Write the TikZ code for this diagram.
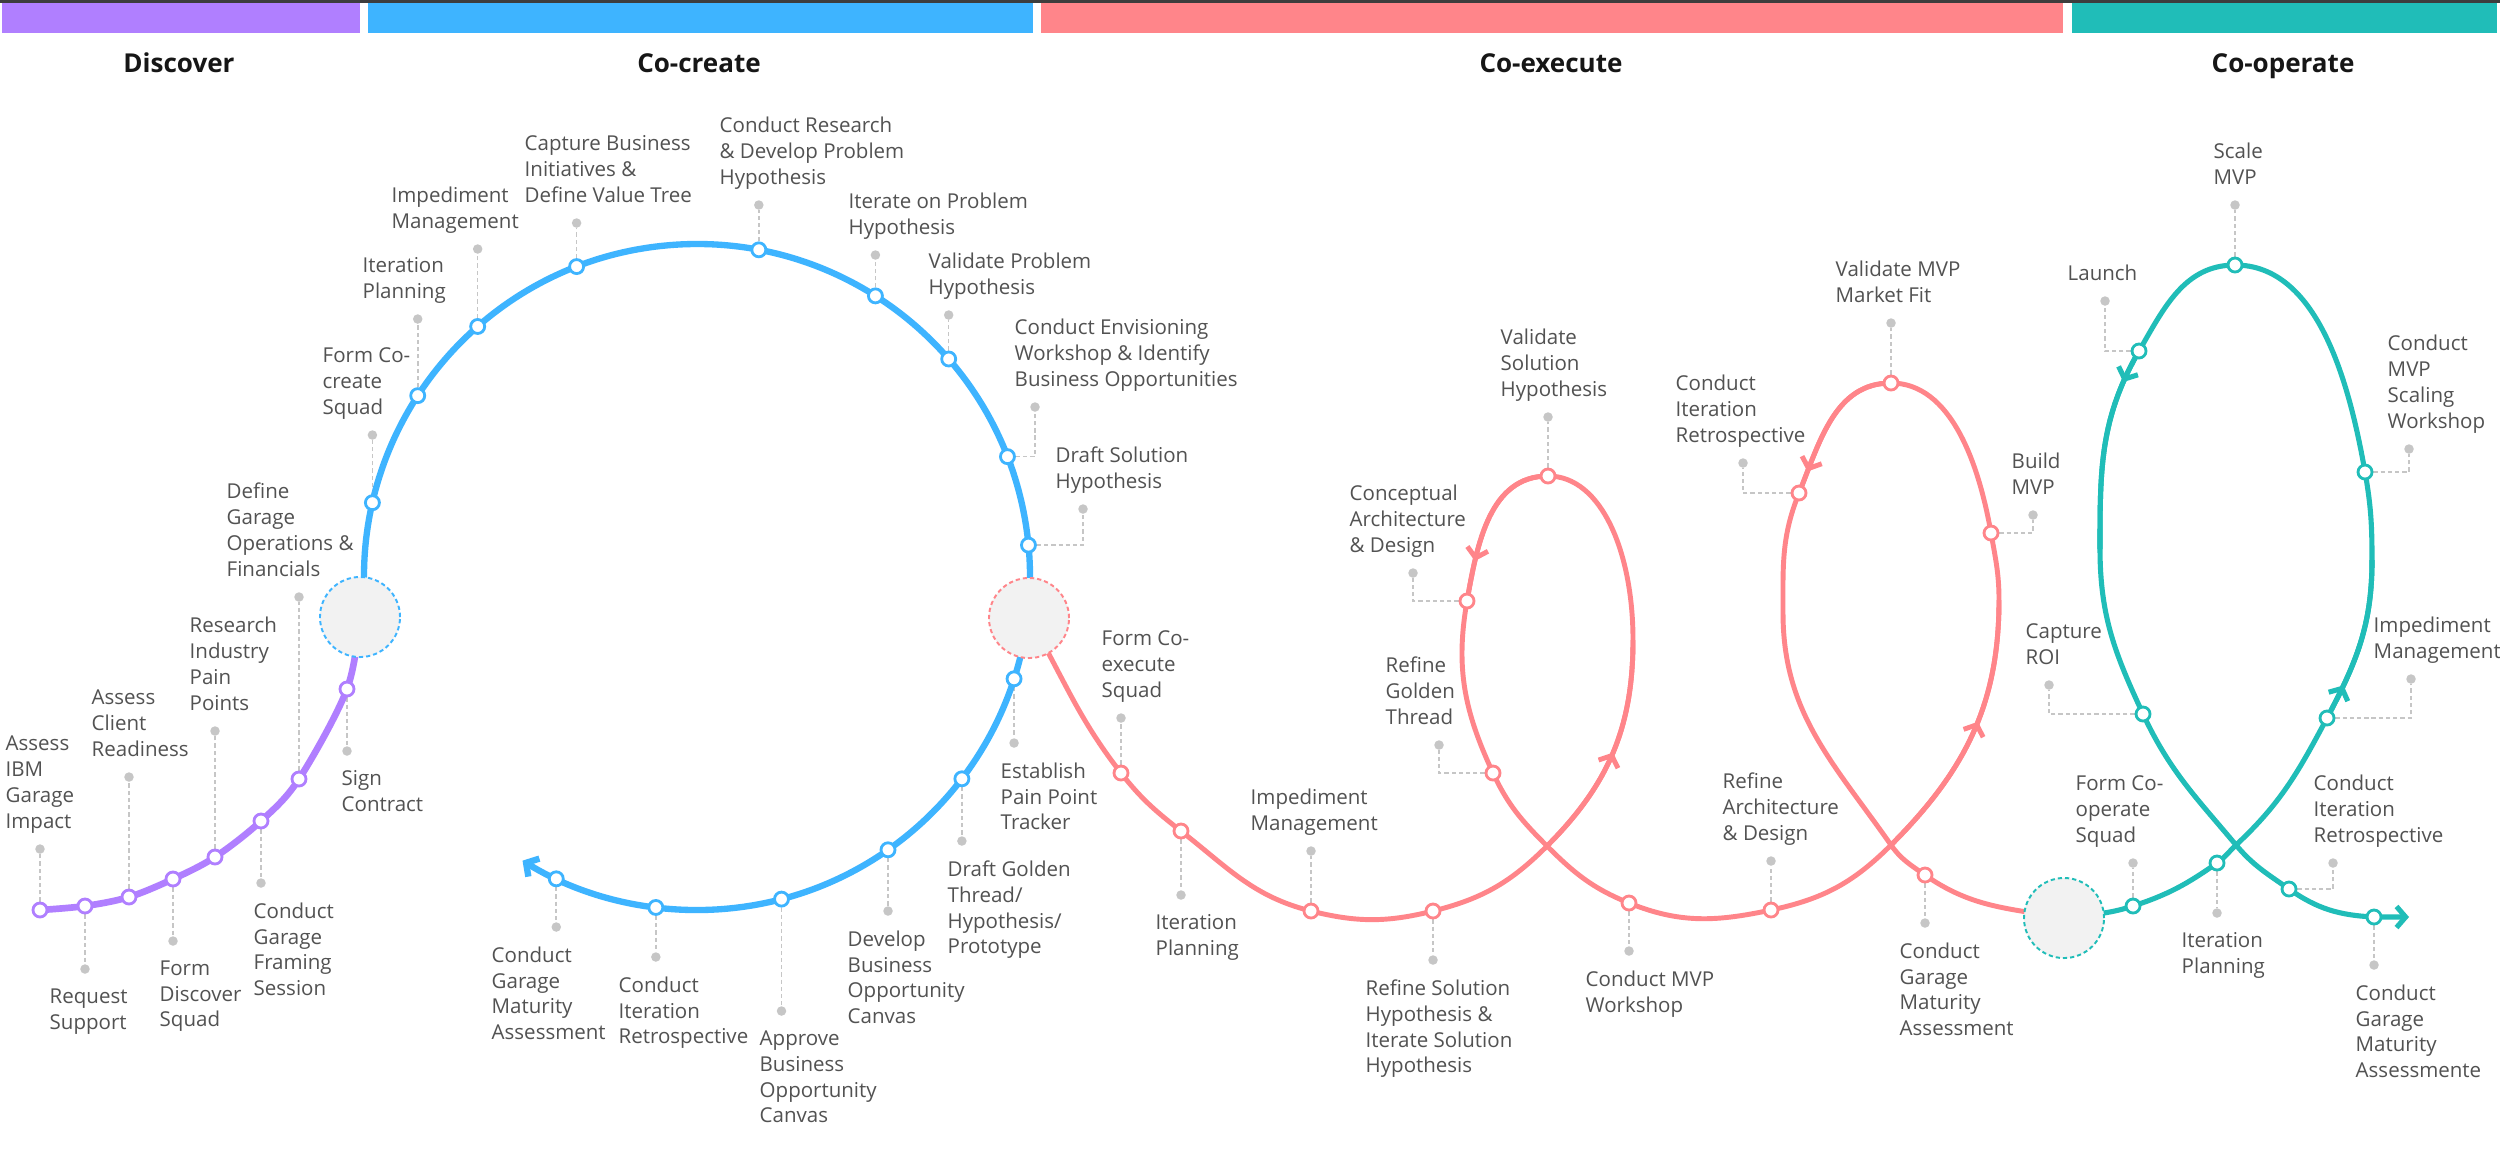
\documentclass[tikz,border=0pt]{standalone}
\usepackage{fontspec}
\setmainfont{Open Sans}
\usetikzlibrary{arrows.meta,calc,decorations.markings}
\pgfdeclarelayer{back}
\pgfsetlayers{back,main}
\definecolor{cpur}{HTML}{B07FFF}
\definecolor{cblu}{HTML}{3EB4FF}
\definecolor{cpnk}{HTML}{FF858A}
\definecolor{ctea}{HTML}{20BDB8}
\definecolor{cgry}{HTML}{C6C6C6}
\definecolor{ctxt}{HTML}{525252}
\definecolor{cfill}{HTML}{F2F2F2}
\definecolor{ctop}{HTML}{3D3D3D}
\definecolor{chdr}{HTML}{161616}
\tikzset{
 ndot/.style={circle, draw=#1, fill=white, line width=0.8pt, minimum size=0.14cm, inner sep=0pt},
 gdot/.style={circle, fill=cgry, draw=none, minimum size=0.095cm, inner sep=0pt},
 leader/.style={draw=cgry, line width=0.45pt, dash pattern=on 1.2pt off 0.85pt},
 lbl/.style={font=\fontsize{5.83pt}{7.34pt}\selectfont, text=ctxt, align=left, inner sep=0pt},
 lblup/.style={lbl, anchor=south west, execute at end node={\vphantom{g}}},
 lbldn/.style={lbl, anchor=north west, execute at begin node={\vphantom{d}}},
 bigc/.style={circle, draw=#1, fill=cfill, line width=0.55pt, dash pattern=on 1.2pt off 0.85pt, minimum size=0.8cm, inner sep=0pt},
 hdr/.style={font=\bfseries\fontsize{7.4pt}{9pt}\selectfont, text=chdr, anchor=base, inner sep=0pt},
 tipb/.tip={Straight Barb[length=2.6pt,width=6pt]},
 ppath/.style={draw=cpur, line width=1.9pt},
 bpath/.style={draw=cblu, line width=1.8pt},
 kpath/.style={draw=cpnk, line width=1.4pt},
 tpath/.style={draw=ctea, line width=1.45pt},
 marr/.style={postaction={decorate}, decoration={markings, mark=at position #1 with {\arrow{tipb}}}},
}
\begin{document}
\begin{tikzpicture}[x=0.01cm,y=0.01cm]
\begin{pgfonlayer}{back}
\fill[white] (0,0) rectangle (2500,-1150);
\end{pgfonlayer}
\useasboundingbox (0,0) rectangle (2500,-1150);
% top bars
\fill[ctop] (0,0) rectangle (2500,-2.5);
\fill[cpur] (2,-2.5) rectangle (360,-33);
\fill[cblu] (368,-2.5) rectangle (1033,-33);
\fill[cpnk] (1041,-2.5) rectangle (2063,-33);
\fill[ctea] (2072,-2.5) rectangle (2497,-33);
\node[hdr] (h1) at (179,-72) {Discover};
\node[hdr] (h2) at (699,-72) {Co-create};
\node[hdr] (h3) at (1551,-72) {Co-execute};
\node[hdr] (h4) at (2283,-72) {Co-operate};

\coordinate (C) at (697,-577);
\node[bigc=cblu] (bc) at (360,-617) {};
\node[bigc=cpnk] (pc) at (1029,-618) {};
\node[bigc=ctea] (tc) at (2064,-918) {};

% ---------- Discover ----------
\node[ndot=cpur] (d1) at (40,-910) {};
\node[ndot=cpur] (d2) at (85,-906) {};
\node[ndot=cpur] (d3) at (129,-897) {};
\node[ndot=cpur] (d4) at (173,-879) {};
\node[ndot=cpur] (d5) at (215,-857) {};
\node[ndot=cpur] (d6) at (261,-821) {};
\node[ndot=cpur] (d7) at (299,-779) {};
\node[ndot=cpur] (d8) at (347,-689) {};
\node[gdot] (d1d) at (d1 |- 0,-849) {};
\node[gdot] (d2d) at (d2 |- 0,-969) {};
\node[gdot] (d3d) at (d3 |- 0,-777) {};
\node[gdot] (d4d) at (d4 |- 0,-941) {};
\node[gdot] (d5d) at (d5 |- 0,-731) {};
\node[gdot] (d6d) at (d6 |- 0,-883) {};
\node[gdot] (d7d) at (d7 |- 0,-597) {};
\node[gdot] (d8d) at (d8 |- 0,-751) {};
\node[lblup] (d1l) at (5,-834) {Assess\\IBM\\Garage\\Impact};
\node[lbldn] (d2l) at (49,-988) {Request\\Support};
\node[lblup] (d3l) at (91,-762) {Assess\\Client\\Readiness};
\node[lbldn] (d4l) at (159,-960) {Form\\Discover\\Squad};
\node[lblup] (d5l) at (189,-716) {Research\\Industry\\Pain\\Points};
\node[lbldn] (d6l) at (253,-902) {Conduct\\Garage\\Framing\\Session};
\node[lblup] (d7l) at (226,-582) {Define\\Garage\\Operations \&\\Financials};
\node[lbldn] (d8l) at (341,-770) {Sign\\Contract};

% ---------- Co-create ----------
\node[ndot=cblu] (b1) at ($(C)+(167.1:333)$) {};
\node[ndot=cblu] (b2) at ($(C)+(147.0:333)$) {};
\node[ndot=cblu] (b3) at ($(C)+(131.2:333)$) {};
\node[ndot=cblu] (b4) at ($(C)+(111.2:333)$) {};
\node[ndot=cblu] (b5) at ($(C)+(79.3:333)$) {};
\node[ndot=cblu] (b6) at ($(C)+(57.6:333)$) {};
\node[ndot=cblu] (b7) at ($(C)+(40.9:333)$) {};
\node[ndot=cblu] (b8) at ($(C)+(21.2:333)$) {};
\node[ndot=cblu] (b9) at ($(C)+(5.5:333)$) {};
\node[ndot=cblu] (b10) at ($(C)+(-17.8:333)$) {};
\node[ndot=cblu] (b11) at ($(C)+(-37.3:333)$) {};
\node[ndot=cblu] (b12) at ($(C)+(-55:333)$) {};
\node[ndot=cblu] (b13) at ($(C)+(-75.3:333)$) {};
\node[ndot=cblu] (b14) at ($(C)+(-97.1:333)$) {};
\node[ndot=cblu] (b15) at ($(C)+(-115:333)$) {};
\node[gdot] (b1d) at (b1 |- 0,-435) {};
\node[gdot] (b2d) at (b2 |- 0,-319) {};
\node[gdot] (b3d) at (b3 |- 0,-249) {};
\node[gdot] (b4d) at (b4 |- 0,-223) {};
\node[gdot] (b5d) at (b5 |- 0,-205) {};
\node[gdot] (b6d) at (b6 |- 0,-255) {};
\node[gdot] (b7d) at (b7 |- 0,-315) {};
\node[gdot] (b8d) at (1035,-407) {};
\node[gdot] (b9d) at (1083,-509) {};
\node[gdot] (b10d) at (b10 |- 0,-743) {};
\node[gdot] (b11d) at (b11 |- 0,-841) {};
\node[gdot] (b12d) at (b12 |- 0,-911) {};
\node[gdot] (b13d) at (b13 |- 0,-1011) {};
\node[gdot] (b14d) at (b14 |- 0,-957) {};
\node[gdot] (b15d) at (b15 |- 0,-927) {};
\node[lblup] (b1l) at (322,-420) {Form Co-\\create\\Squad};
\node[lblup] (b2l) at (362,-304) {Iteration\\Planning};
\node[lblup] (b3l) at (391,-234) {Impediment\\Management};
\node[lblup] (b4l) at (524,-208) {Capture Business\\Initiatives \&\\Define Value Tree};
\node[lblup] (b5l) at (719,-190) {Conduct Research\\\& Develop Problem\\Hypothesis};
\node[lblup] (b6l) at (848,-240) {Iterate on Problem\\Hypothesis};
\node[lblup] (b7l) at (928,-300) {Validate Problem\\Hypothesis};
\node[lblup] (b8l) at (1014,-392) {Conduct Envisioning\\Workshop \& Identify\\Business Opportunities};
\node[lblup] (b9l) at (1055,-494) {Draft Solution\\Hypothesis};
\node[lbldn] (b10l) at (1000,-762) {Establish\\Pain Point\\Tracker};
\node[lbldn] (b11l) at (947,-860) {Draft Golden\\Thread/\\Hypothesis/\\Prototype};
\node[lbldn] (b12l) at (847,-930) {Develop\\Business\\Opportunity\\Canvas};
\node[lbldn] (b13l) at (759,-1030) {Approve\\Business\\Opportunity\\Canvas};
\node[lbldn] (b14l) at (618,-976) {Conduct\\Iteration\\Retrospective};
\node[lbldn] (b15l) at (491,-946) {Conduct\\Garage\\Maturity\\Assessment};

% ---------- Co-execute ----------
\coordinate (X1) at (1547,-846);
\coordinate (R1) at (1633,-640);
\coordinate (X2) at (1891,-845);
\coordinate (R2) at (1999,-600);
\coordinate (L2) at (1783,-613);
\node[ndot=cpnk] (p1) at (1121,-773) {};
\node[ndot=cpnk] (p2) at (1181,-831) {};
\node[ndot=cpnk] (p3) at (1311,-911) {};
\node[ndot=cpnk] (p4) at (1433,-911) {};
\node[ndot=cpnk] (p5) at (1548,-476) {};
\node[ndot=cpnk] (p6) at (1467,-601) {};
\node[ndot=cpnk] (p7) at (1493,-773) {};
\node[ndot=cpnk] (p8) at (1629,-903) {};
\node[ndot=cpnk] (p9) at (1771,-910) {};
\node[ndot=cpnk] (p10) at (1991,-533) {};
\node[ndot=cpnk] (p11) at (1891,-383) {};
\node[ndot=cpnk] (p12) at (1799,-493) {};
\node[ndot=cpnk] (p13) at (1925,-875) {};
\node[gdot] (p1d) at (p1 |- 0,-718) {};
\node[gdot] (p2d) at (p2 |- 0,-895) {};
\node[gdot] (p3d) at (p3 |- 0,-851) {};
\node[gdot] (p4d) at (p4 |- 0,-960) {};
\node[gdot] (p5d) at (p5 |- 0,-417) {};
\node[gdot] (p6d) at (1413,-573) {};
\node[gdot] (p7d) at (1439,-745) {};
\node[gdot] (p8d) at (p8 |- 0,-951) {};
\node[gdot] (p9d) at (p9 |- 0,-861) {};
\node[gdot] (p10d) at (2033,-515) {};
\node[gdot] (p11d) at (p11 |- 0,-323) {};
\node[gdot] (p12d) at (1743,-463) {};
\node[gdot] (p13d) at (p13 |- 0,-923) {};
\node[lblup] (p1l) at (1101,-703) {Form Co-\\execute\\Squad};
\node[lbldn] (p2l) at (1155,-914) {Iteration\\Planning};
\node[lblup] (p3l) at (1250,-836) {Impediment\\Management};
\node[lbldn] (p4l) at (1365,-979) {Refine Solution\\Hypothesis \&\\Iterate Solution\\Hypothesis};
\node[lblup] (p5l) at (1500,-402) {Validate\\Solution\\Hypothesis};
\node[lblup] (p6l) at (1349,-558) {Conceptual\\Architecture\\\& Design};
\node[lblup] (p7l) at (1385,-730) {Refine\\Golden\\Thread};
\node[lbldn] (p8l) at (1585,-970) {Conduct MVP\\Workshop};
\node[lblup] (p9l) at (1722,-846) {Refine\\Architecture\\\& Design};
\node[lblup] (p10l) at (2011,-500) {Build\\MVP};
\node[lblup] (p11l) at (1835,-308) {Validate MVP\\Market Fit};
\node[lblup] (p12l) at (1675,-448) {Conduct\\Iteration\\Retrospective};
\node[lbldn] (p13l) at (1899,-942) {Conduct\\Garage\\Maturity\\Assessment};

% ---------- Co-operate ----------
\coordinate (X3) at (2236,-845);
\coordinate (R3) at (2372,-560);
\coordinate (L3) at (2100,-549);
\coordinate (tend) at (2409,-917);
\node[ndot=ctea] (t1) at (2133,-906) {};
\node[ndot=ctea] (t2) at (2217,-863) {};
\node[ndot=ctea] (t3) at (2327,-718) {};
\node[ndot=ctea] (t4) at (2365,-472) {};
\node[ndot=ctea] (t5) at (2235,-265) {};
\node[ndot=ctea] (t6) at (2139,-351) {};
\node[ndot=ctea] (t7) at (2143,-714) {};
\node[ndot=ctea] (t8) at (2289,-889) {};
\node[ndot=ctea] (t9) at (2374,-917) {};
\node[gdot] (t1d) at (t1 |- 0,-863) {};
\node[gdot] (t2d) at (t2 |- 0,-913) {};
\node[gdot] (t3d) at (2411,-679) {};
\node[gdot] (t4d) at (2409,-449) {};
\node[gdot] (t5d) at (t5 |- 0,-205) {};
\node[gdot] (t6d) at (2105,-301) {};
\node[gdot] (t7d) at (2049,-685) {};
\node[gdot] (t8d) at (2333,-863) {};
\node[gdot] (t9d) at (t9 |- 0,-965) {};
\node[lblup] (t1l) at (2075,-848) {Form Co-\\operate\\Squad};
\node[lbldn] (t2l) at (2181,-932) {Iteration\\Planning};
\node[lblup] (t3l) at (2373,-664) {Impediment\\Management};
\node[lblup] (t4l) at (2387,-434) {Conduct\\MVP\\Scaling\\Workshop};
\node[lblup] (t5l) at (2213,-190) {Scale\\MVP};
\node[lblup] (t6l) at (2067,-286) {Launch};
\node[lblup] (t7l) at (2025,-670) {Capture\\ROI};
\node[lblup] (t8l) at (2313,-848) {Conduct\\Iteration\\Retrospective};
\node[lbldn] (t9l) at (2355,-984) {Conduct\\Garage\\Maturity\\Assessmente};

\begin{pgfonlayer}{back}
% leaders
\foreach \n in {d1,d2,d3,d4,d5,d6,d7,d8,b1,b2,b3,b4,b5,b6,b7,b10,b11,b12,b13,b14,b15,p1,p2,p3,p4,p5,p8,p9,p11,p13,t1,t2,t5,t9}
  {\draw[leader] (\n) -- (\n d);}
\foreach \n in {b8,b9,p6,p7,p10,p12,t3,t4,t6,t7,t8}
  {\draw[leader] (\n) -| (\n d);}
% Discover curve
\draw[ppath] plot[smooth, tension=0.55] coordinates {(d1.center) (d2.center) (d3.center) (d4.center) (d5.center) (d6.center) (d7.center) (d8.center) (bc.center)};
% Co-create circle
\draw[bpath, -{tipb}] ($(C)+(185:333)$) arc[start angle=185, end angle=-121.6, radius=333];
% Co-execute curve
\draw[kpath] (pc.center) to[out=-60,in=128] (p1.center) to[out=-52,in=142] (p2.center)
  to[out=-38,in=166] (p3.center) to[out=-14,in=-166] (p4.center) to[out=14,in=-135] (X1)
  to[out=45,in=-90] (R1) to[out=90,in=0,out looseness=1.2,in looseness=0.75] (p5.center) to[out=180,in=80] (p6.center)
  to[out=-100,in=115] (p7.center) to[out=-65,in=135] (X1) to[out=-45,in=158] (p8.center)
  to[out=-22,in=-168] (p9.center) to[out=12,in=-135] (X2) to[out=45,in=-90] (R2)
  to[out=90,in=-80] (p10.center) to[out=100,in=0,in looseness=0.85] (p11.center) to[out=180,in=68] (p12.center)
  to[out=-112,in=90] (L2) to[out=-90,in=125] (X2) to[out=-55,in=145] (p13.center)
  to[out=-35,in=170] (tc.center);
\draw[kpath, marr=0.5] (X1) to[out=45,in=-90] (R1);
\draw[kpath, marr=0.75] (p5.center) to[out=180,in=80] (p6.center);
\draw[kpath, marr=0.55] (X2) to[out=45,in=-90] (R2);
\draw[kpath, marr=0.85] (p11.center) to[out=180,in=68] (p12.center);
% Co-operate curve
\draw[tpath, -{tipb}] (tc.center) to[out=8,in=-162] (t1.center) to[out=18,in=-145] (t2.center)
  to[out=35,in=-137] (X3) to[out=43,in=-118] (t3.center) to[out=62,in=-90] (R3)
  to[out=90,in=-80] (t4.center) to[out=100,in=0,in looseness=0.85] (t5.center) to[out=180,in=60] (t6.center)
  to[out=-120,in=90] (L3) to[out=-90,in=115] (t7.center) to[out=-65,in=130] (X3)
  to[out=-50,in=145] (t8.center) to[out=-35,in=177] (t9.center) -- (tend);
\draw[tpath, marr=0.17] (t6.center) to[out=-120,in=90] (L3);
\draw[tpath, marr=0.22] (t3.center) to[out=62,in=-90] (R3);
\end{pgfonlayer}
\end{tikzpicture}
\end{document}
